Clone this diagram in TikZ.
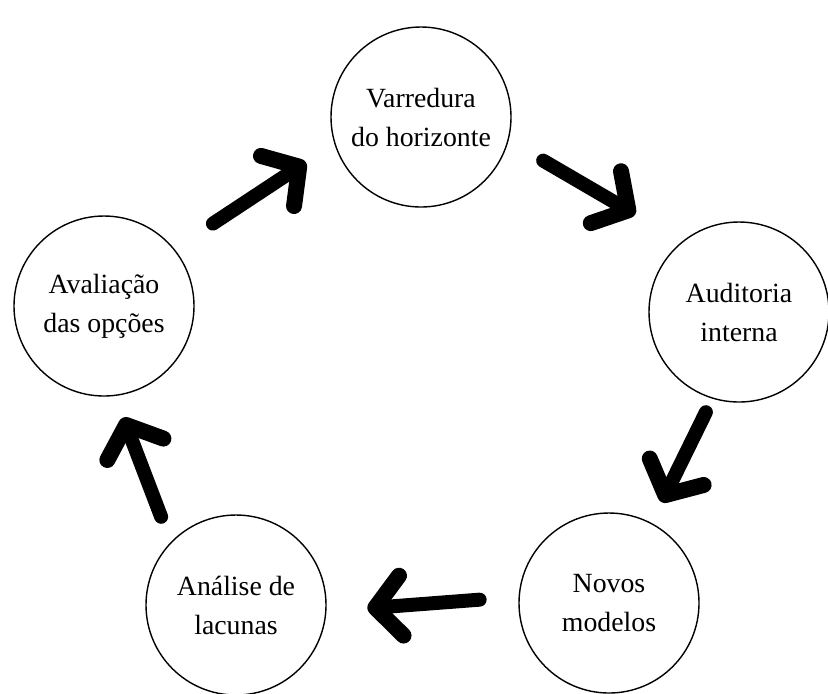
\documentclass[tikz,border=0pt]{standalone}
\usepackage{fontspec}
\setmainfont{Liberation Serif}
\usetikzlibrary{arrows.meta}

\begin{document}
\begin{tikzpicture}[x=0.5pt, y=-0.5pt,
 stage/.style={circle, draw, line width=0.7pt, minimum size=90pt, inner sep=0pt, align=center, font=\fontsize{13.9pt}{19.5pt}\selectfont},
 flow/.style={line width=7pt, line cap=round, -{Straight Barb[length=13pt, width=30pt, line width=8pt, line cap=round, line join=round]}}]
 \useasboundingbox (0,0) rectangle (828,693);
 \node[stage] (varr) at (421,117) {Varredura\\do horizonte};
 \node[stage] (audi) at (739,312) {Auditoria\\interna};
 \node[stage] (novo) at (609,603) {Novos\\modelos};
 \node[stage] (anal) at (236,605) {Análise de\\lacunas};
 \node[stage] (aval) at (104,306) {Avaliação\\das opções};

 \draw[flow, shorten <=23pt, shorten >=17pt] (aval.39) -- (varr.197);
 \draw[flow, shorten <=20pt, shorten >=27pt] (varr.-15) -- (audi.129);
 \draw[flow, shorten <=7.5pt, shorten >=11.5pt] (audi.253) -- (novo.62);
 \draw[flow, shorten <=19.5pt, shorten >=20.5pt] (novo.176) -- (anal.-4);
 \draw[flow, shorten <=13.5pt, shorten >=11.5pt] (anal.136) -- (aval.-83);
\end{tikzpicture}
\end{document}
